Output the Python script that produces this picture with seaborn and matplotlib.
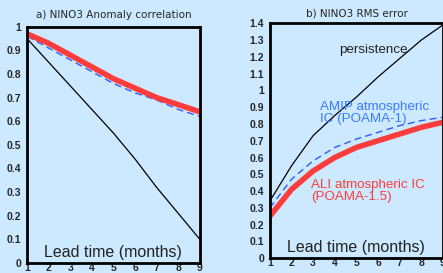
import numpy as np
import pandas as pd
import matplotlib
matplotlib.use("Agg")
import matplotlib.pyplot as plt
import seaborn as sns

# lead times (months)
lead = [1, 2, 3, 4, 5, 6, 7, 8, 9]

# a) NINO3 anomaly correlation
acc_ali = [0.97, 0.93, 0.88, 0.83, 0.78, 0.74, 0.70, 0.67, 0.64]
acc_amip = [0.96, 0.91, 0.86, 0.81, 0.76, 0.72, 0.69, 0.65, 0.62]
acc_persist = [0.95, 0.85, 0.75, 0.65, 0.55, 0.44, 0.32, 0.21, 0.10]

# b) NINO3 RMS error
rms_ali = [0.25, 0.41, 0.52, 0.60, 0.66, 0.70, 0.74, 0.78, 0.81]
rms_amip = [0.30, 0.47, 0.58, 0.66, 0.71, 0.75, 0.79, 0.82, 0.84]
rms_persist = [0.34, 0.55, 0.73, 0.85, 0.96, 1.08, 1.19, 1.30, 1.39]

acc_ticks = [0, 0.1, 0.2, 0.3, 0.4, 0.5, 0.6, 0.7, 0.8, 0.9, 1]
rms_ticks = [0, 0.1, 0.2, 0.3, 0.4, 0.5, 0.6, 0.7, 0.8, 0.9, 1, 1.1, 1.2, 1.3, 1.4]

BG = "#cce9ff"
RED = "#ff3c3c"
BLUE = "#2f5cff"

sns.set_style("white")
plt.rcParams["font.family"] = ["Liberation Sans", "DejaVu Sans"]

fig = plt.figure(figsize=(4.43, 2.73), dpi=100, facecolor=BG)
ax1 = fig.add_axes([0.061, 0.037, 0.390, 0.865])
ax2 = fig.add_axes([0.609, 0.054, 0.391, 0.861])


def draw(ax, ali, amip, persist, ticks, ymax):
    ax.set_facecolor(BG)
    sns.lineplot(x=lead, y=persist, ax=ax, color="black", lw=0.9)
    sns.lineplot(x=lead, y=amip, ax=ax, color=BLUE, lw=1.0, linestyle=(0, (5, 3)))
    sns.lineplot(x=lead, y=ali, ax=ax, color=RED, lw=4.0)
    ax.set_xlim(1, 9)
    ax.set_ylim(0, ymax)
    ax.set_xticks(lead)
    ax.set_yticks(ticks)
    ax.set_yticklabels([f"{t:g}" for t in ticks], fontsize=7.5, fontweight="bold")
    ax.set_xticklabels([str(v) for v in lead], fontsize=7.5, fontweight="bold")
    ax.tick_params(axis="y", direction="out", length=3, width=1, pad=1)
    ax.tick_params(axis="x", direction="in", length=2, width=1, pad=0)
    for sp in ax.spines.values():
        sp.set_linewidth(2)
        sp.set_color("black")
    ax.text(0.5, 0.012, "Lead time (months)", transform=ax.transAxes,
            ha="center", va="bottom", fontsize=11.5, color="#222222")


draw(ax1, acc_ali, acc_amip, acc_persist, acc_ticks, 1.0)
draw(ax2, rms_ali, rms_amip, rms_persist, rms_ticks, 1.4)

fig.text(0.256, 0.945, "a) NINO3 Anomaly correlation", ha="center", va="center",
         fontsize=7.5, family=["DejaVu Sans"])
fig.text(0.805, 0.952, "b) NINO3 RMS error", ha="center", va="center",
         fontsize=7.5, family=["DejaVu Sans"])

ax2.text(4.2, 1.24, "persistence", ha="left", va="center", fontsize=9.6, color="#222222")
ax2.text(3.3, 0.865, "AMIP atmospheric\nIC (POAMA-1)", ha="left", va="center",
         fontsize=9.6, color="#3a7cff", linespacing=1.0)
ax2.text(2.9, 0.40, "ALI atmospheric IC\n(POAMA-1.5)", ha="left", va="center",
         fontsize=9.6, color=RED, linespacing=1.0)

plt.savefig("out.png", dpi=100, facecolor=BG)
